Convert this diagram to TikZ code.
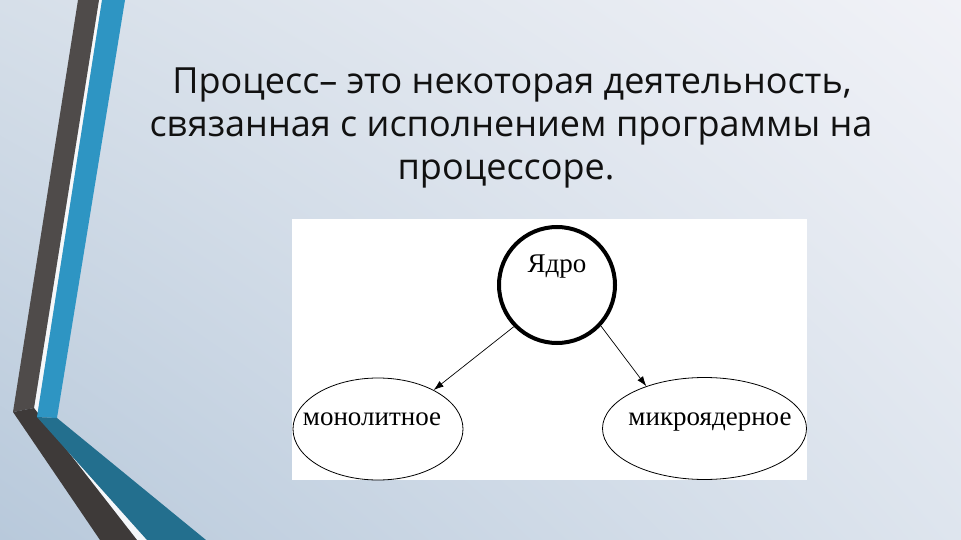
\documentclass[tikz,border=0pt]{standalone}
\usepackage{fontspec}
\setmainfont{Open Sans}
\newfontfamily\diafont{Liberation Serif}
\usetikzlibrary{arrows.meta,shapes.geometric,shadings}
\definecolor{greyup}{HTML}{4F4B4A}
\definecolor{greylow}{HTML}{3E3A39}
\definecolor{blueup}{HTML}{2E95C3}
\definecolor{bluelow}{HTML}{236F8E}
\definecolor{titlecol}{HTML}{111111}
\definecolor{bgul}{HTML}{D6DFE9}
\definecolor{bgur}{HTML}{F1F2F7}
\definecolor{bgll}{HTML}{B8C9DB}
\definecolor{bglr}{HTML}{DEE5EE}
\tikzset{
  titletext/.style={anchor=base, text=titlecol, inner sep=0pt, font=\fontsize{36}{43}\selectfont},
  diatext/.style={anchor=base, inner sep=0pt, font=\diafont\fontsize{27}{30}\selectfont},
  kernel/.style={circle, draw=black, line width=4pt, minimum size=116pt, inner sep=0pt},
  kind/.style={ellipse, draw=black, line width=0.8pt, inner sep=0pt},
  link/.style={draw=black, line width=0.7pt, -{Latex[length=10pt,width=7pt]}}
}
\begin{document}
\begin{tikzpicture}[x=1pt,y=-1pt]
\useasboundingbox (0,0) rectangle (961,540);
\shade[upper left=bgul, upper right=bgur, lower left=bgll, lower right=bglr]
  (0,0) rectangle (961,540);
% decorative stripes
\fill[white, opacity=0.85] (99,0) -- (102,0) -- (37,417) -- (147,540) -- (137,540) -- (34,408) -- cycle;
\fill[greyup] (78,0) -- (99,0) -- (34,408) -- (13,412) -- cycle;
\fill[greylow] (13,412) -- (34,408) -- (137,540) -- (100,540) -- cycle;
\fill[blueup] (102,0) -- (125,0) -- (57,418) -- (37,417) -- cycle;
\fill[bluelow] (37,417) -- (57,418) -- (206,540) -- (147,540) -- cycle;
% title
\node[titletext] (t1) at (512,94) {Процесс– это некоторая деятельность,};
\node[titletext] (t2) at (511,137) {связанная с исполнением программы на};
\node[titletext] (t3) at (506,180) {процессоре.};
% diagram panel
\node[fill=white, inner sep=0pt, minimum width=515pt, minimum height=261pt] (panel) at (549.5,349.5) {};
\node[kernel] (core) at (557,285) {};
\node[diatext] (coretext) at (557,272) {Ядро};
\node[kind, minimum width=170pt, minimum height=102pt] (mono) at (378,429) {};
\node[kind, minimum width=204pt, minimum height=102pt] (micro) at (704.5,428.5) {};
\node[diatext] (monotext) at (372,425) {монолитное};
\node[diatext] (microtext) at (710,425) {микроядерное};
\draw[link] (core.224) -- (mono.35);
\draw[link] (core.317) -- (micro.144);
\end{tikzpicture}
\end{document}
